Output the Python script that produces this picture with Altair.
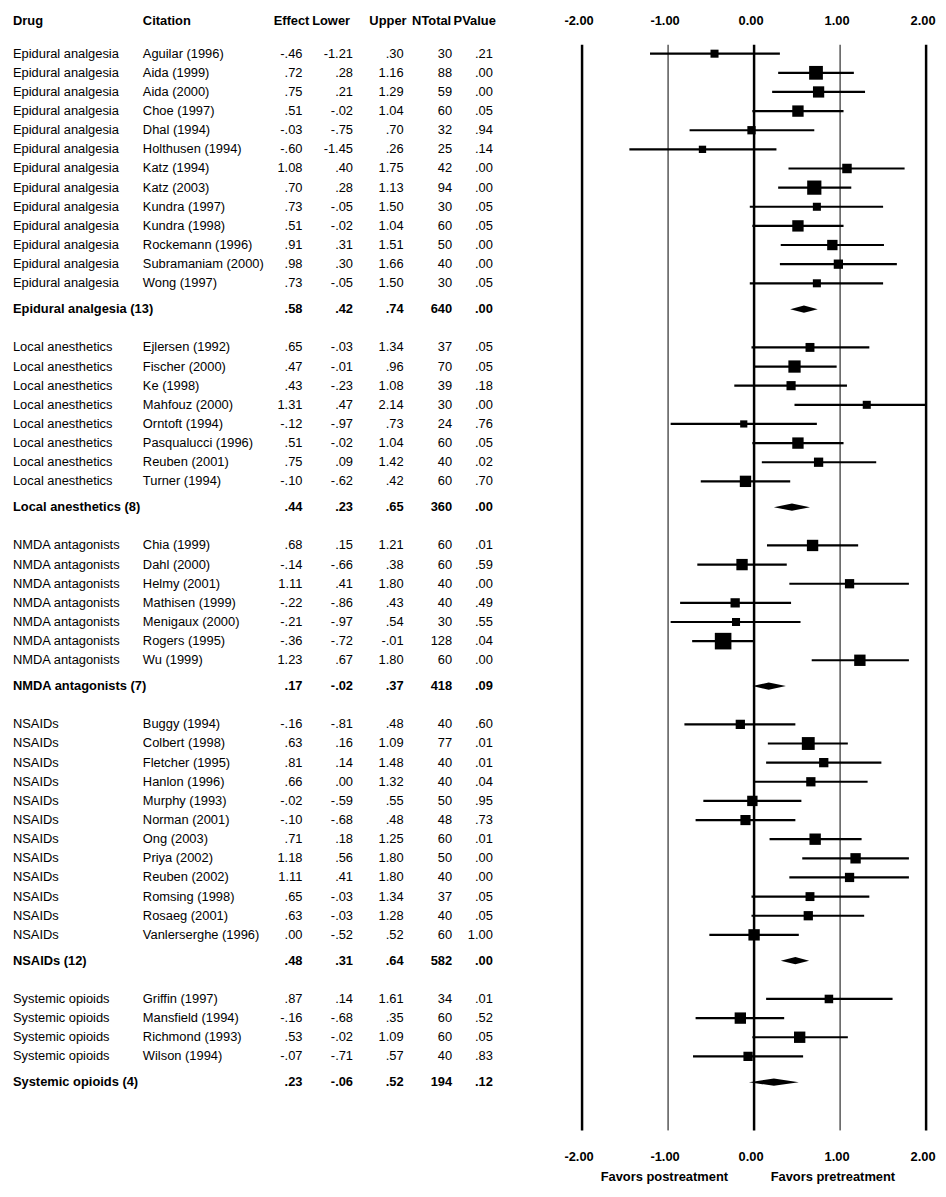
import altair as alt
import pandas as pd

FONT = "Liberation Sans"

# ---------------- data ----------------
group_names = ["Epidural analgesia", "Local anesthetics", "NMDA antagonists", "NSAIDs", "Systemic opioids"]

study_drug = (["Epidural analgesia"] * 13 + ["Local anesthetics"] * 8 + ["NMDA antagonists"] * 7
              + ["NSAIDs"] * 12 + ["Systemic opioids"] * 4)
citation = [
    "Aguilar (1996)", "Aida (1999)", "Aida (2000)", "Choe (1997)", "Dhal (1994)", "Holthusen (1994)",
    "Katz (1994)", "Katz (2003)", "Kundra (1997)", "Kundra (1998)", "Rockemann (1996)",
    "Subramaniam (2000)", "Wong (1997)",
    "Ejlersen (1992)", "Fischer (2000)", "Ke (1998)", "Mahfouz (2000)", "Orntoft (1994)",
    "Pasqualucci (1996)", "Reuben (2001)", "Turner (1994)",
    "Chia (1999)", "Dahl (2000)", "Helmy (2001)", "Mathisen (1999)", "Menigaux (2000)",
    "Rogers (1995)", "Wu (1999)",
    "Buggy (1994)", "Colbert (1998)", "Fletcher (1995)", "Hanlon (1996)", "Murphy (1993)",
    "Norman (2001)", "Ong (2003)", "Priya (2002)", "Reuben (2002)", "Romsing (1998)",
    "Rosaeg (2001)", "Vanlerserghe (1996)",
    "Griffin (1997)", "Mansfield (1994)", "Richmond (1993)", "Wilson (1994)",
]
effect = [-.46, .72, .75, .51, -.03, -.60, 1.08, .70, .73, .51, .91, .98, .73,
          .65, .47, .43, 1.31, -.12, .51, .75, -.10,
          .68, -.14, 1.11, -.22, -.21, -.36, 1.23,
          -.16, .63, .81, .66, -.02, -.10, .71, 1.18, 1.11, .65, .63, .00,
          .87, -.16, .53, -.07]
lower = [-1.21, .28, .21, -.02, -.75, -1.45, .40, .28, -.05, -.02, .31, .30, -.05,
         -.03, -.01, -.23, .47, -.97, -.02, .09, -.62,
         .15, -.66, .41, -.86, -.97, -.72, .67,
         -.81, .16, .14, .00, -.59, -.68, .18, .56, .41, -.03, -.03, -.52,
         .14, -.68, -.02, -.71]
upper = [.30, 1.16, 1.29, 1.04, .70, .26, 1.75, 1.13, 1.50, 1.04, 1.51, 1.66, 1.50,
         1.34, .96, 1.08, 2.14, .73, 1.04, 1.42, .42,
         1.21, .38, 1.80, .43, .54, -.01, 1.80,
         .48, 1.09, 1.48, 1.32, .55, .48, 1.25, 1.80, 1.80, 1.34, 1.28, .52,
         1.61, .35, 1.09, .57]
ntotal = [30, 88, 59, 60, 32, 25, 42, 94, 30, 60, 50, 40, 30,
          37, 70, 39, 30, 24, 60, 40, 60,
          60, 60, 40, 40, 30, 128, 60,
          40, 77, 40, 40, 50, 48, 60, 50, 40, 37, 40, 60,
          34, 60, 60, 40]
pvalue = [.21, .00, .00, .05, .94, .14, .00, .00, .05, .05, .00, .00, .05,
          .05, .05, .18, .00, .76, .05, .02, .70,
          .01, .59, .00, .49, .55, .04, .00,
          .60, .01, .01, .04, .95, .73, .01, .00, .00, .05, .05, 1.00,
          .01, .52, .05, .83]

sum_k = [13, 8, 7, 12, 4]
sum_effect = [.58, .44, .17, .48, .23]
sum_lower = [.42, .23, -.02, .31, -.06]
sum_upper = [.74, .65, .37, .64, .52]
sum_n = [640, 360, 418, 582, 194]
sum_p = [.00, .00, .09, .00, .12]

ticks = [-2, -1, 0, 1, 2]


def fmt(v):
    s = f"{v:.2f}"
    if s.startswith("0."):
        s = s[1:]
    elif s.startswith("-0."):
        s = "-" + s[2:]
    return s


# ---------------- row layout ----------------
SUM_OFF = 1.35
GAP = 2.0
study_rows, sum_rows, diamond = [], [], []
pos = 0.0
i = 0
for g, name in enumerate(group_names):
    for _ in range(sum_k[g]):
        study_rows.append(dict(pos=pos, drug=study_drug[i], cit=citation[i],
                               effect=effect[i], lower=lower[i], upper=upper[i], n=ntotal[i],
                               es=fmt(effect[i]), ls=fmt(lower[i]), us=fmt(upper[i]),
                               ns=str(ntotal[i]), ps=fmt(pvalue[i])))
        i += 1
        pos += 1
    pos = pos - 1 + SUM_OFF
    sum_rows.append(dict(pos=pos, drug=f"{name} ({sum_k[g]})", cit="",
                         es=fmt(sum_effect[g]), ls=fmt(sum_lower[g]), us=fmt(sum_upper[g]),
                         ns=str(sum_n[g]), ps=fmt(sum_p[g])))
    h = 0.19
    diamond += [dict(grp=name, x=sum_lower[g], lo=pos, hi=pos),
                dict(grp=name, x=sum_effect[g], lo=pos - h, hi=pos + h),
                dict(grp=name, x=sum_upper[g], lo=pos, hi=pos)]
    pos += GAP

studies = pd.DataFrame(study_rows)
summaries = pd.DataFrame(sum_rows)
diam = pd.DataFrame(diamond)
tick_df = pd.DataFrame({"v": ticks, "lab": [f"{t:.2f}" for t in ticks]})

# ---------------- scales ----------------
W, H = 938, 1095
xscale = alt.Scale(domain=[-2, 2], range=[579, 926], clamp=True, nice=False, zero=False)
yscale = alt.Scale(domain=[-0.466, 56.27], reverse=True, nice=False, zero=False)
sscale = alt.Scale(domain=[0, 128], range=[0, 280])

X = lambda f: alt.X(f, scale=xscale, axis=None)
Y = lambda f: alt.Y(f, scale=yscale, axis=None)

layers = []

# reference lines
thick = tick_df[tick_df.v.isin([-2, 0, 2])]
thin = tick_df[tick_df.v.isin([-1, 1])]
layers.append(alt.Chart(thick).mark_rule(color="black", strokeWidth=2.5).encode(x=X("v:Q")))
layers.append(alt.Chart(thin).mark_rule(color="black", strokeWidth=1).encode(x=X("v:Q")))

# confidence intervals
layers.append(alt.Chart(studies).mark_rule(color="black", strokeWidth=2.2).encode(
    x=X("lower:Q"), x2="upper:Q", y=Y("pos:Q")))
# squares
layers.append(alt.Chart(studies).mark_square(color="black", filled=True, opacity=1).encode(
    x=X("effect:Q"), y=Y("pos:Q"),
    size=alt.Size("n:Q", scale=sscale, legend=None)))
# diamonds
layers.append(alt.Chart(diam).mark_area(color="black", orient="vertical", opacity=1).encode(
    x=X("x:Q"), y=Y("lo:Q"), y2="hi:Q", detail="grp:N"))


def col_text(df, field, xpx, align, bold):
    return alt.Chart(df).mark_text(
        align=align, baseline="middle", font=FONT, fontSize=13,
        fontWeight="bold" if bold else "normal", color="black"
    ).encode(x=alt.value(xpx), y=Y("pos:Q"), text=f"{field}:N")


cols = [("drug", 5, "left"), ("cit", 136, "left"), ("es", 297, "right"), ("ls", 348, "right"),
        ("us", 399, "right"), ("ns", 448, "right"), ("ps", 489, "right")]
for f, xp, al in cols:
    layers.append(col_text(studies, f, xp, al, False))
    layers.append(col_text(summaries, f, xp, al, True))

headers = [("Drug", 5, "left"), ("Citation", 136, "left"), ("Effect", 304, "right"),
           ("Lower", 345, "right"), ("Upper", 402, "right"), ("NTotal", 447, "right"),
           ("PValue", 492, "right")]
for name, xp, al in headers:
    layers.append(alt.Chart(pd.DataFrame({"t": [name]})).mark_text(
        align=al, baseline="middle", font=FONT, fontSize=13, fontWeight="bold", color="black"
    ).encode(x=alt.value(xp), y=alt.value(-24), text="t:N"))

# tick labels top and bottom
for ypx in (-24, 1122):
    layers.append(alt.Chart(tick_df).mark_text(
        align="center", baseline="middle", font=FONT, fontSize=13, fontWeight="bold", color="black",
        dx=-3
    ).encode(x=X("v:Q"), y=alt.value(ypx), text="lab:N"))

# favors labels
for name, xp in (("Favors postreatment", 662), ("Favors pretreatment", 832)):
    layers.append(alt.Chart(pd.DataFrame({"t": [name]})).mark_text(
        align="center", baseline="middle", font=FONT, fontSize=13, fontWeight="bold", color="black"
    ).encode(x=alt.value(xp), y=alt.value(1142), text="t:N"))

chart = alt.layer(*layers).properties(
    width=W, height=H,
    padding={"left": 0, "right": 0, "top": 32, "bottom": 54},
    autosize=alt.AutoSizeParams(type="none"),
    background="white",
).configure_view(stroke=None)

chart.save("out.html", embed_options={"renderer": "svg", "actions": False})
